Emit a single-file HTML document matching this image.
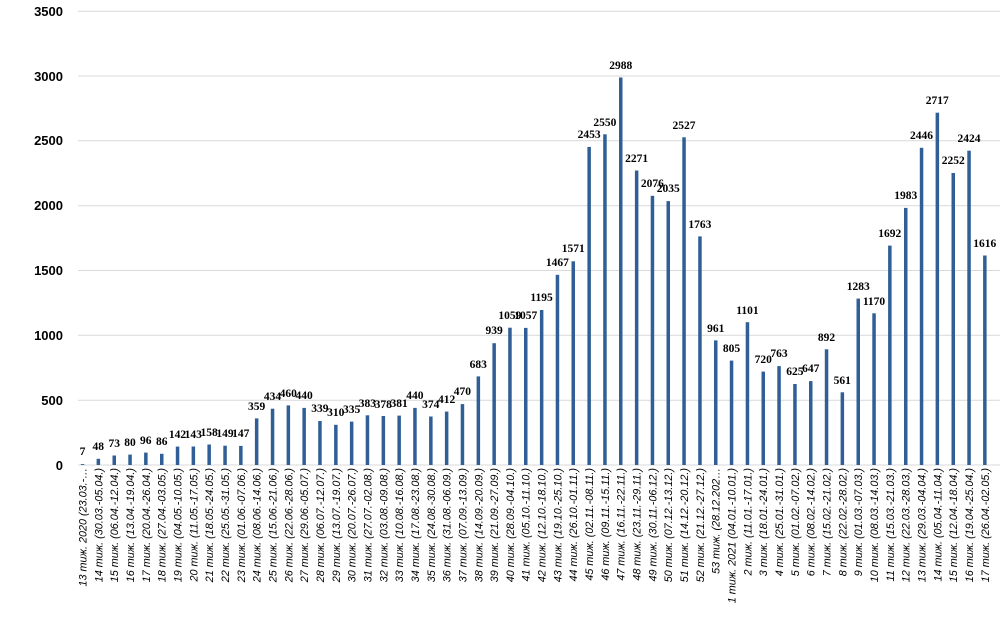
<!DOCTYPE html>
<html><head><meta charset="utf-8"><style>
html,body{margin:0;padding:0;background:#fff;}
svg{display:block;}
.yl{font:bold 13px "Liberation Sans",sans-serif;fill:#000;text-anchor:end;}
.dl{font:bold 11.5px "Liberation Serif",serif;fill:#000;text-anchor:middle;}
.xl{font:italic 10.8px "Liberation Sans","DejaVu Sans",sans-serif;fill:#000;text-anchor:end;}
</style></head><body>
<svg width="1000" height="617" xmlns="http://www.w3.org/2000/svg">
<g stroke="#d9d9d9" stroke-width="1">
<line x1="78" x2="1000" y1="465" y2="465"/>
<line x1="78" x2="1000" y1="400.2" y2="400.2"/>
<line x1="78" x2="1000" y1="335.3" y2="335.3"/>
<line x1="78" x2="1000" y1="270.5" y2="270.5"/>
<line x1="78" x2="1000" y1="205.7" y2="205.7"/>
<line x1="78" x2="1000" y1="140.8" y2="140.8"/>
<line x1="78" x2="1000" y1="76" y2="76"/>
<line x1="78" x2="1000" y1="11.2" y2="11.2"/>
</g>
<text class="yl" x="63" y="470">0</text>
<text class="yl" x="63" y="405">500</text>
<text class="yl" x="63" y="340">1000</text>
<text class="yl" x="63" y="275">1500</text>
<text class="yl" x="63" y="210">2000</text>
<text class="yl" x="63" y="145">2500</text>
<text class="yl" x="63" y="81">3000</text>
<text class="yl" x="63" y="16">3500</text>
<g fill="#2f5f96">
<rect x="80.8" y="464.1" width="3.5" height="0.9"/>
<rect x="96.6" y="458.8" width="3.5" height="6.2"/>
<rect x="112.5" y="455.5" width="3.5" height="9.5"/>
<rect x="128.3" y="454.6" width="3.5" height="10.4"/>
<rect x="144.1" y="452.6" width="3.5" height="12.4"/>
<rect x="160" y="453.8" width="3.5" height="11.2"/>
<rect x="175.8" y="446.6" width="3.5" height="18.4"/>
<rect x="191.6" y="446.5" width="3.5" height="18.5"/>
<rect x="207.4" y="444.5" width="3.5" height="20.5"/>
<rect x="223.3" y="445.7" width="3.5" height="19.3"/>
<rect x="239.1" y="445.9" width="3.5" height="19.1"/>
<rect x="254.9" y="418.4" width="3.5" height="46.6"/>
<rect x="270.8" y="408.7" width="3.5" height="56.3"/>
<rect x="286.6" y="405.4" width="3.5" height="59.6"/>
<rect x="302.4" y="407.9" width="3.5" height="57.1"/>
<rect x="318.2" y="421" width="3.5" height="44"/>
<rect x="334.1" y="424.8" width="3.5" height="40.2"/>
<rect x="349.9" y="421.6" width="3.5" height="43.4"/>
<rect x="365.7" y="415.3" width="3.5" height="49.7"/>
<rect x="381.6" y="416" width="3.5" height="49"/>
<rect x="397.4" y="415.6" width="3.5" height="49.4"/>
<rect x="413.2" y="407.9" width="3.5" height="57.1"/>
<rect x="429.1" y="416.5" width="3.5" height="48.5"/>
<rect x="444.9" y="411.6" width="3.5" height="53.4"/>
<rect x="460.7" y="404.1" width="3.5" height="60.9"/>
<rect x="476.6" y="376.4" width="3.5" height="88.6"/>
<rect x="492.4" y="343.2" width="3.5" height="121.8"/>
<rect x="508.2" y="327.7" width="3.5" height="137.3"/>
<rect x="524" y="327.9" width="3.5" height="137.1"/>
<rect x="539.9" y="310" width="3.5" height="155"/>
<rect x="555.7" y="274.8" width="3.5" height="190.2"/>
<rect x="571.5" y="261.3" width="3.5" height="203.7"/>
<rect x="587.4" y="146.9" width="3.5" height="318.1"/>
<rect x="603.2" y="134.3" width="3.5" height="330.7"/>
<rect x="619" y="77.5" width="3.5" height="387.5"/>
<rect x="634.9" y="170.5" width="3.5" height="294.5"/>
<rect x="650.7" y="195.8" width="3.5" height="269.2"/>
<rect x="666.5" y="201.1" width="3.5" height="263.9"/>
<rect x="682.3" y="137.3" width="3.5" height="327.7"/>
<rect x="698.2" y="236.4" width="3.5" height="228.6"/>
<rect x="714" y="340.4" width="3.5" height="124.6"/>
<rect x="729.8" y="360.6" width="3.5" height="104.4"/>
<rect x="745.7" y="322.2" width="3.5" height="142.8"/>
<rect x="761.5" y="371.6" width="3.5" height="93.4"/>
<rect x="777.3" y="366.1" width="3.5" height="98.9"/>
<rect x="793.2" y="384" width="3.5" height="81"/>
<rect x="809" y="381.1" width="3.5" height="83.9"/>
<rect x="824.8" y="349.3" width="3.5" height="115.7"/>
<rect x="840.6" y="392.3" width="3.5" height="72.7"/>
<rect x="856.5" y="298.6" width="3.5" height="166.4"/>
<rect x="872.3" y="313.3" width="3.5" height="151.7"/>
<rect x="888.1" y="245.6" width="3.5" height="219.4"/>
<rect x="904" y="207.9" width="3.5" height="257.1"/>
<rect x="919.8" y="147.8" width="3.5" height="317.2"/>
<rect x="935.6" y="112.7" width="3.5" height="352.3"/>
<rect x="951.5" y="173" width="3.5" height="292"/>
<rect x="967.3" y="150.7" width="3.5" height="314.3"/>
<rect x="983.1" y="255.5" width="3.5" height="209.5"/>
</g>
<g>
<text class="dl" x="82.5" y="455">7</text>
<text class="dl" x="98.3" y="450">48</text>
<text class="dl" x="114.2" y="447">73</text>
<text class="dl" x="130" y="446">80</text>
<text class="dl" x="145.8" y="444">96</text>
<text class="dl" x="161.7" y="445">86</text>
<text class="dl" x="177.5" y="438">142</text>
<text class="dl" x="193.3" y="438">143</text>
<text class="dl" x="209.1" y="436">158</text>
<text class="dl" x="225" y="437">149</text>
<text class="dl" x="240.8" y="437">147</text>
<text class="dl" x="256.6" y="410">359</text>
<text class="dl" x="272.5" y="400">434</text>
<text class="dl" x="288.3" y="397">460</text>
<text class="dl" x="304.1" y="399">440</text>
<text class="dl" x="319.9" y="412">339</text>
<text class="dl" x="335.8" y="416">310</text>
<text class="dl" x="351.6" y="413">335</text>
<text class="dl" x="367.4" y="407">383</text>
<text class="dl" x="383.3" y="408">378</text>
<text class="dl" x="399.1" y="407">381</text>
<text class="dl" x="414.9" y="399">440</text>
<text class="dl" x="430.8" y="408">374</text>
<text class="dl" x="446.6" y="403">412</text>
<text class="dl" x="462.4" y="395">470</text>
<text class="dl" x="478.3" y="368">683</text>
<text class="dl" x="494.1" y="334">939</text>
<text class="dl" x="509.9" y="319">1059</text>
<text class="dl" x="525.7" y="319">1057</text>
<text class="dl" x="541.6" y="301">1195</text>
<text class="dl" x="557.4" y="266">1467</text>
<text class="dl" x="573.2" y="252">1571</text>
<text class="dl" x="589.1" y="138">2453</text>
<text class="dl" x="604.9" y="126">2550</text>
<text class="dl" x="620.7" y="69">2988</text>
<text class="dl" x="636.6" y="162">2271</text>
<text class="dl" x="652.4" y="187">2076</text>
<text class="dl" x="668.2" y="192">2035</text>
<text class="dl" x="684" y="129">2527</text>
<text class="dl" x="699.9" y="228">1763</text>
<text class="dl" x="715.7" y="332">961</text>
<text class="dl" x="731.5" y="352">805</text>
<text class="dl" x="747.4" y="314">1101</text>
<text class="dl" x="763.2" y="363">720</text>
<text class="dl" x="779" y="357">763</text>
<text class="dl" x="794.9" y="375">625</text>
<text class="dl" x="810.7" y="372">647</text>
<text class="dl" x="826.5" y="341">892</text>
<text class="dl" x="842.3" y="384">561</text>
<text class="dl" x="858.2" y="290">1283</text>
<text class="dl" x="874" y="305">1170</text>
<text class="dl" x="889.8" y="237">1692</text>
<text class="dl" x="905.7" y="199">1983</text>
<text class="dl" x="921.5" y="139">2446</text>
<text class="dl" x="937.3" y="104">2717</text>
<text class="dl" x="953.2" y="164">2252</text>
<text class="dl" x="969" y="142">2424</text>
<text class="dl" x="984.8" y="247">1616</text>
</g>
<g>
<text class="xl" transform="translate(86.5,468) rotate(-90)">13 тиж. 2020 (23.03.-…</text>
<text class="xl" transform="translate(102.3,468) rotate(-90)">14 тиж. (30.03.-05.04.)</text>
<text class="xl" transform="translate(118.2,468) rotate(-90)">15 тиж. (06.04.-12.04.)</text>
<text class="xl" transform="translate(134,468) rotate(-90)">16 тиж. (13.04.-19.04.)</text>
<text class="xl" transform="translate(149.8,468) rotate(-90)">17 тиж. (20.04.-26.04.)</text>
<text class="xl" transform="translate(165.7,468) rotate(-90)">18 тиж. (27.04.-03.05.)</text>
<text class="xl" transform="translate(181.5,468) rotate(-90)">19 тиж. (04.05.-10.05.)</text>
<text class="xl" transform="translate(197.3,468) rotate(-90)">20 тиж. (11.05.-17.05.)</text>
<text class="xl" transform="translate(213.1,468) rotate(-90)">21 тиж. (18.05.-24.05.)</text>
<text class="xl" transform="translate(229,468) rotate(-90)">22 тиж. (25.05.-31.05.)</text>
<text class="xl" transform="translate(244.8,468) rotate(-90)">23 тиж. (01.06.-07.06.)</text>
<text class="xl" transform="translate(260.6,468) rotate(-90)">24 тиж. (08.06.-14.06.)</text>
<text class="xl" transform="translate(276.5,468) rotate(-90)">25 тиж. (15.06.-21.06.)</text>
<text class="xl" transform="translate(292.3,468) rotate(-90)">26 тиж. (22.06.-28.06.)</text>
<text class="xl" transform="translate(308.1,468) rotate(-90)">27 тиж. (29.06.-05.07.)</text>
<text class="xl" transform="translate(323.9,468) rotate(-90)">28 тиж. (06.07.-12.07.)</text>
<text class="xl" transform="translate(339.8,468) rotate(-90)">29 тиж. (13.07.-19.07.)</text>
<text class="xl" transform="translate(355.6,468) rotate(-90)">30 тиж. (20.07.-26.07.)</text>
<text class="xl" transform="translate(371.4,468) rotate(-90)">31 тиж. (27.07.-02.08.)</text>
<text class="xl" transform="translate(387.3,468) rotate(-90)">32 тиж. (03.08.-09.08.)</text>
<text class="xl" transform="translate(403.1,468) rotate(-90)">33 тиж. (10.08.-16.08.)</text>
<text class="xl" transform="translate(418.9,468) rotate(-90)">34 тиж. (17.08.-23.08.)</text>
<text class="xl" transform="translate(434.8,468) rotate(-90)">35 тиж. (24.08.-30.08.)</text>
<text class="xl" transform="translate(450.6,468) rotate(-90)">36 тиж. (31.08.-06.09.)</text>
<text class="xl" transform="translate(466.4,468) rotate(-90)">37 тиж. (07.09.-13.09.)</text>
<text class="xl" transform="translate(482.3,468) rotate(-90)">38 тиж. (14.09.-20.09.)</text>
<text class="xl" transform="translate(498.1,468) rotate(-90)">39 тиж. (21.09.-27.09.)</text>
<text class="xl" transform="translate(513.9,468) rotate(-90)">40 тиж. (28.09.-04.10.)</text>
<text class="xl" transform="translate(529.7,468) rotate(-90)">41 тиж. (05.10.-11.10.)</text>
<text class="xl" transform="translate(545.6,468) rotate(-90)">42 тиж. (12.10.-18.10.)</text>
<text class="xl" transform="translate(561.4,468) rotate(-90)">43 тиж. (19.10.-25.10.)</text>
<text class="xl" transform="translate(577.2,468) rotate(-90)">44 тиж. (26.10.-01.11.)</text>
<text class="xl" transform="translate(593.1,468) rotate(-90)">45 тиж. (02.11.-08.11.)</text>
<text class="xl" transform="translate(608.9,468) rotate(-90)">46 тиж. (09.11.-15.11.)</text>
<text class="xl" transform="translate(624.7,468) rotate(-90)">47 тиж. (16.11.-22.11.)</text>
<text class="xl" transform="translate(640.6,468) rotate(-90)">48 тиж. (23.11.-29.11.)</text>
<text class="xl" transform="translate(656.4,468) rotate(-90)">49 тиж. (30.11.-06.12.)</text>
<text class="xl" transform="translate(672.2,468) rotate(-90)">50 тиж. (07.12.-13.12.)</text>
<text class="xl" transform="translate(688,468) rotate(-90)">51 тиж. (14.12.-20.12.)</text>
<text class="xl" transform="translate(703.9,468) rotate(-90)">52 тиж. (21.12.-27.12.)</text>
<text class="xl" transform="translate(719.7,468) rotate(-90)">53 тиж. (28.12.202…</text>
<text class="xl" transform="translate(735.5,468) rotate(-90)">1 тиж. 2021 (04.01.-10.01.)</text>
<text class="xl" transform="translate(751.4,468) rotate(-90)">2 тиж. (11.01.-17.01.)</text>
<text class="xl" transform="translate(767.2,468) rotate(-90)">3 тиж. (18.01.-24.01.)</text>
<text class="xl" transform="translate(783,468) rotate(-90)">4 тиж. (25.01.-31.01.)</text>
<text class="xl" transform="translate(798.9,468) rotate(-90)">5 тиж. (01.02.-07.02.)</text>
<text class="xl" transform="translate(814.7,468) rotate(-90)">6 тиж. (08.02.-14.02.)</text>
<text class="xl" transform="translate(830.5,468) rotate(-90)">7 тиж. (15.02.-21.02.)</text>
<text class="xl" transform="translate(846.3,468) rotate(-90)">8 тиж. (22.02.-28.02.)</text>
<text class="xl" transform="translate(862.2,468) rotate(-90)">9 тиж. (01.03.-07.03.)</text>
<text class="xl" transform="translate(878,468) rotate(-90)">10 тиж. (08.03.-14.03.)</text>
<text class="xl" transform="translate(893.8,468) rotate(-90)">11 тиж. (15.03.-21.03.)</text>
<text class="xl" transform="translate(909.7,468) rotate(-90)">12 тиж. (22.03.-28.03.)</text>
<text class="xl" transform="translate(925.5,468) rotate(-90)">13 тиж. (29.03.-04.04.)</text>
<text class="xl" transform="translate(941.3,468) rotate(-90)">14 тиж. (05.04.-11.04.)</text>
<text class="xl" transform="translate(957.2,468) rotate(-90)">15 тиж. (12.04.-18.04.)</text>
<text class="xl" transform="translate(973,468) rotate(-90)">16 тиж. (19.04.-25.04.)</text>
<text class="xl" transform="translate(988.8,468) rotate(-90)">17 тиж. (26.04.-02.05.)</text>
</g>
</svg>
</body></html>
